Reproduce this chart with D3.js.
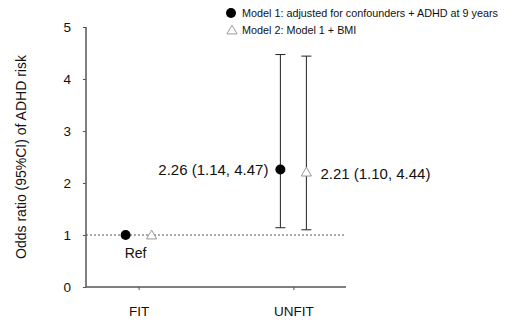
<!DOCTYPE html>
<html>
<head>
<meta charset="utf-8">
<script src="https://cdn.jsdelivr.net/npm/d3@7"></script>
<style>
body { margin: 0; background: #fff; }
text { font-family: "Liberation Sans", Arial, sans-serif; }
</style>
</head>
<body>
<div id="chart"></div>
<script>
// data
var groups = ['FIT', 'UNFIT'];
var models = ['Model 1: adjusted for confounders + ADHD at 9 years', 'Model 2: Model 1 + BMI'];
var oddsRatio = [[1, 1], [2.26, 2.21]];      // [group][model]
var lowerCI = [[null, null], [1.14, 1.10]];
var upperCI = [[null, null], [4.47, 4.44]];
var yTicks = [0, 1, 2, 3, 4, 5];

var margin = { left: 86, top: 27, right: 160, bottom: 34 };
var width = 506, height = 321;
var plotW = width - margin.left - margin.right;
var plotH = height - margin.top - margin.bottom;

var svg = d3.select('#chart').append('svg')
    .attr('width', width)
    .attr('height', height);

var g = svg.append('g').attr('transform', 'translate(' + margin.left + ',' + margin.top + ')');

var xScale = d3.scalePoint().domain(groups).range([0, plotW]).padding(0.34);
var yScale = d3.scaleLinear().domain([0, 5]).range([plotH, 0]);
var offset = [-13, 13];

// reference line at OR = 1
g.append('line')
    .attr('x1', 0).attr('x2', plotW)
    .attr('y1', yScale(1)).attr('y2', yScale(1))
    .style('stroke', '#555').style('stroke-dasharray', '2,2').style('stroke-width', 1);

// axes
var yAxis = g.append('g').call(d3.axisLeft(yScale).tickValues(yTicks).tickSize(3).tickPadding(12).tickFormat(d3.format('d')));
var xAxis = g.append('g').attr('transform', 'translate(0,' + plotH + ')')
    .call(d3.axisBottom(xScale).tickSize(3).tickPadding(16));
[yAxis, xAxis].forEach(function (a) {
    a.select('.domain').style('stroke', '#555').style('stroke-width', 1.5);
    a.selectAll('.tick line').style('stroke', '#555');
    a.selectAll('.tick text').style('font-size', '13.5px').style('fill', '#111');
});
xAxis.select('.domain').attr('d', 'M0,0H' + plotW);
yAxis.select('.domain').attr('d', 'M0,0V' + plotH);

// error bars
groups.forEach(function (grp, gi) {
    models.forEach(function (m, mi) {
        if (lowerCI[gi][mi] == null) return;
        var x = xScale(grp) + offset[mi];
        var bar = g.append('g').style('stroke', '#222').style('stroke-width', 1);
        bar.append('line').attr('x1', x).attr('x2', x)
            .attr('y1', yScale(lowerCI[gi][mi])).attr('y2', yScale(upperCI[gi][mi]));
        [lowerCI[gi][mi], upperCI[gi][mi]].forEach(function (v) {
            bar.append('line').attr('x1', x - 5).attr('x2', x + 5)
                .attr('y1', yScale(v)).attr('y2', yScale(v));
        });
    });
});

var tri = d3.symbol().type(d3.symbolTriangle).size(45);

// points
groups.forEach(function (grp, gi) {
    var x0 = xScale(grp);
    g.append('circle')
        .attr('cx', x0 + offset[0]).attr('cy', yScale(oddsRatio[gi][0]))
        .attr('r', 5).style('fill', '#000');
    g.append('path')
        .attr('d', tri)
        .attr('transform', 'translate(' + (x0 + offset[1]) + ',' + (yScale(oddsRatio[gi][1]) + 1) + ')')
        .style('fill', '#fff').style('stroke', '#999').style('stroke-width', 1);
});

// value labels
function fmt(gi, mi) {
    return oddsRatio[gi][mi].toFixed(2) + ' (' + lowerCI[gi][mi].toFixed(2) + ', ' + upperCI[gi][mi].toFixed(2) + ')';
}
g.append('text')
    .attr('x', xScale('UNFIT') + offset[0] - 12).attr('y', yScale(oddsRatio[1][0]) + 6)
    .style('text-anchor', 'end').style('font-size', '15px').style('fill', '#111')
    .text(fmt(1, 0));
g.append('text')
    .attr('x', xScale('UNFIT') + offset[1] + 14).attr('y', yScale(oddsRatio[1][1]) + 7)
    .style('text-anchor', 'start').style('font-size', '15px').style('fill', '#111')
    .text(fmt(1, 1));
g.append('text')
    .attr('x', xScale('FIT') - 3).attr('y', yScale(1) + 23)
    .style('text-anchor', 'middle').style('font-size', '14px').style('fill', '#111')
    .text('Ref');

// y axis title
svg.append('text')
    .attr('transform', 'translate(26,' + (margin.top + plotH / 2) + ') rotate(-90)')
    .style('text-anchor', 'middle').style('font-size', '14px').style('fill', '#111')
    .text('Odds ratio (95%CI) of ADHD risk');

// legend
var legend = svg.append('g').attr('transform', 'translate(231,13)');
legend.append('circle').attr('cx', 0).attr('cy', 0).attr('r', 5).style('fill', '#000');
legend.append('path').attr('d', tri).attr('transform', 'translate(1,18)')
    .style('fill', '#fff').style('stroke', '#999');
legend.selectAll('.lt')
    .data(models)
    .enter()
    .append('text')
    .attr('x', 11)
    .attr('y', function (d, i) { return i * 17 + 4; })
    .style('font-size', '10.8px').style('fill', '#111')
    .text(function (d) { return d; });
</script>
</body>
</html>
